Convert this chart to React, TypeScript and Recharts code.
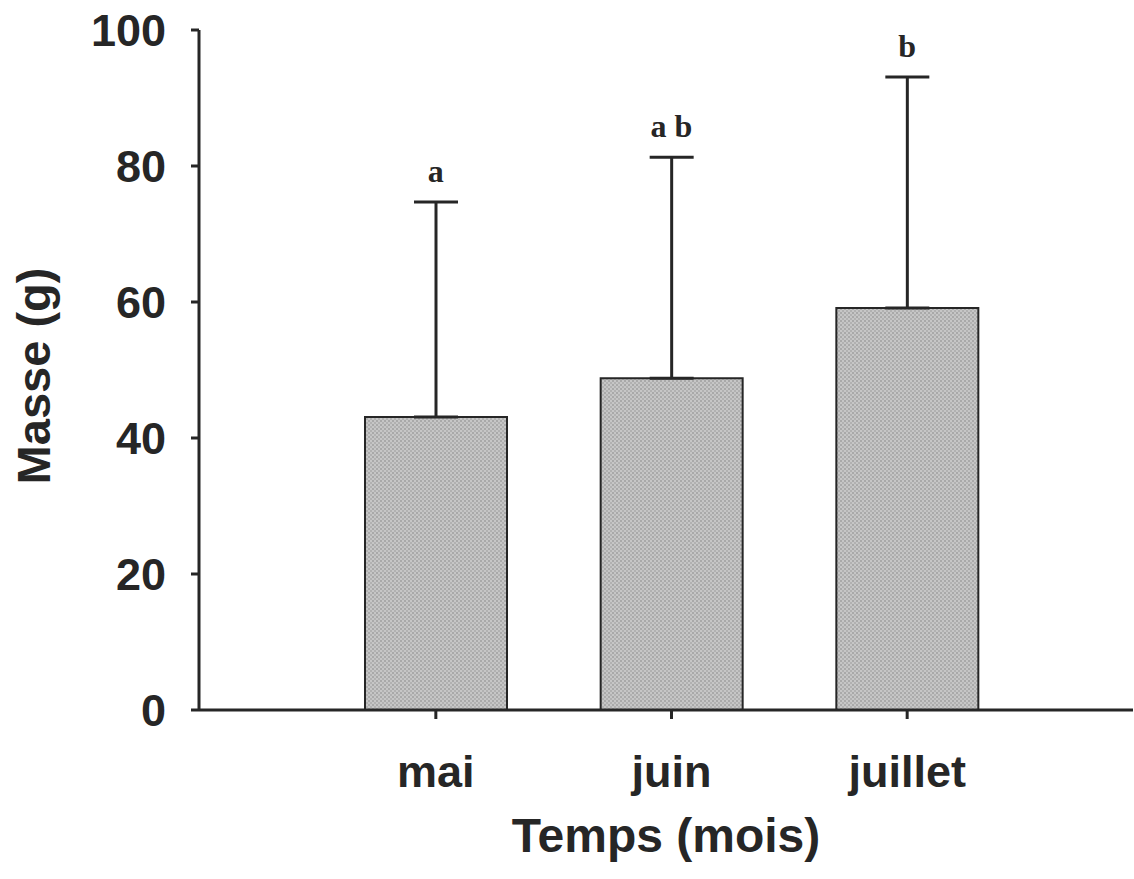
import React from "react"
import { Bar, ComposedChart, ErrorBar, LabelList, Line, XAxis, YAxis } from "recharts"

const mois = ["mai", "juin", "juillet"]
const masse = [43.1, 48.8, 59.1]
const ecartType = [31.6, 32.5, 34.0]
const lettres = ["a", "a b", "b"]
const yTicks = [0, 20, 40, 60, 80, 100]

const data = mois.map((m, i) => ({
  mois: m,
  masse: masse[i],
  err: [0, ecartType[i]],
  haut: masse[i] + ecartType[i],
  lettre: lettres[i],
}))

const ink = "#262626"
const sans = "'Liberation Sans', Arial, sans-serif"

const YTitle = ({ viewBox }: any) => {
  const cx = viewBox.x + 50
  const cy = viewBox.y + viewBox.height / 2 + 6
  return (
    <text
      x={cx}
      y={cy}
      transform={`rotate(-90 ${cx} ${cy})`}
      textAnchor="middle"
      fontFamily={sans}
      fontWeight="bold"
      fontSize={47}
      fill={ink}
    >
      Masse (g)
    </text>
  )
}

export default function App() {
  return (
    <div style={{ position: "absolute", left: 0, top: 0, background: "#fff" }}>
      <ComposedChart width={1134} height={879} data={data} margin={{ top: 30, right: 1, left: 0, bottom: 0 }}>
        <defs>
          <pattern id="grain" width="4" height="4" patternUnits="userSpaceOnUse">
            <rect width="4" height="4" fill="#c6c6c6" />
            <rect x="0" y="0" width="2" height="2" fill="#a9a9a9" />
            <rect x="2" y="2" width="2" height="2" fill="#b1b1b1" />
          </pattern>
        </defs>
        <XAxis
          dataKey="mois"
          height={169}
          padding={{ left: 119, right: 108 }}
          stroke={ink}
          strokeWidth={3}
          tickSize={9}
          tickMargin={36}
          tick={{ fontFamily: sans, fontWeight: "bold", fontSize: 45, fill: ink }}
          label={{
            value: "Temps (mois)",
            position: "insideBottom",
            offset: 27,
            fontFamily: sans,
            fontWeight: "bold",
            fontSize: 48,
            fill: ink,
          }}
        />
        <YAxis
          width={199}
          domain={[0, 100]}
          ticks={yTicks}
          interval={0}
          stroke={ink}
          strokeWidth={3}
          tickSize={8}
          tickMargin={25}
          tick={{ fontFamily: sans, fontWeight: "bold", fontSize: 45, fill: ink }}
          label={<YTitle />}
        />
        <Bar dataKey="masse" barSize={142} fill="url(#grain)" stroke={ink} strokeWidth={2} isAnimationActive={false}>
          <ErrorBar dataKey="err" width={22} stroke={ink} strokeWidth={3} direction="y" />
        </Bar>
        <Line dataKey="haut" stroke="none" dot={false} activeDot={false} isAnimationActive={false}>
          <LabelList
            dataKey="lettre"
            position="top"
            offset={20}
            fontFamily="'Liberation Serif', 'Times New Roman', serif"
            fontWeight="bold"
            fontSize={32}
            fill={ink}
          />
        </Line>
      </ComposedChart>
    </div>
  )
}
